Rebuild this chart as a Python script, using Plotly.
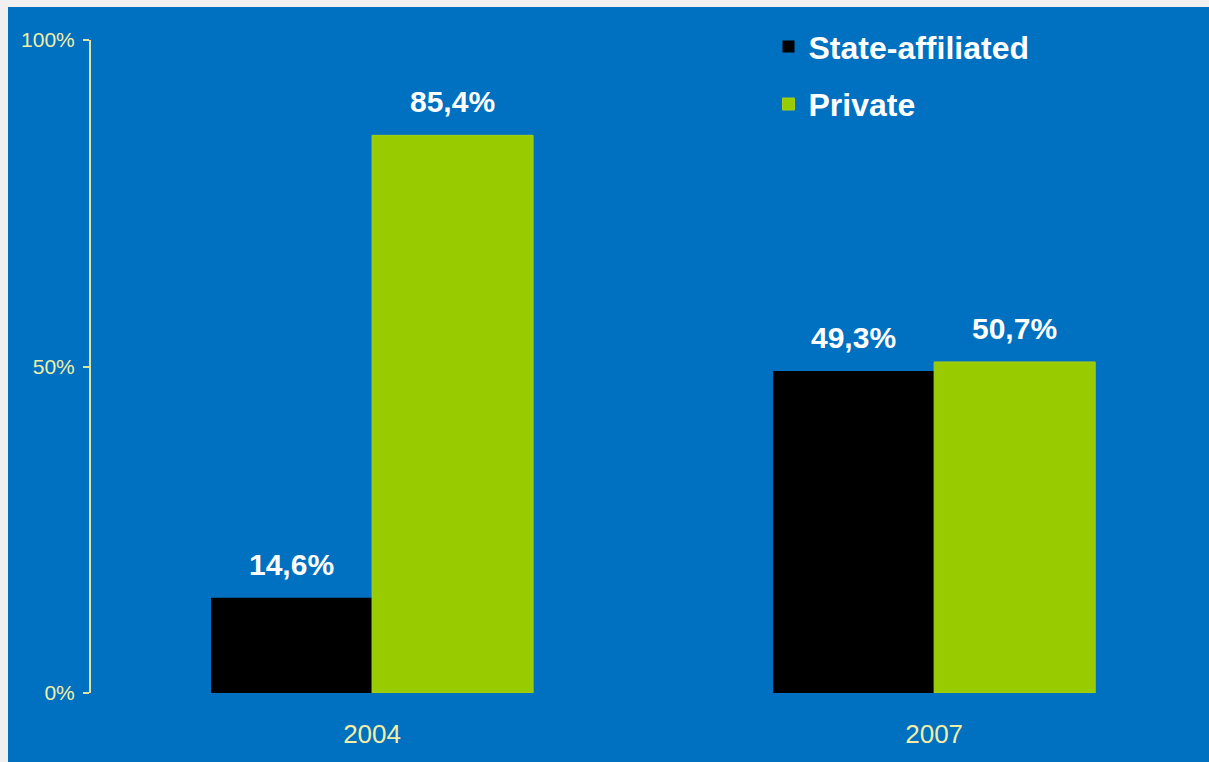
import plotly.graph_objects as go

years = ["2004", "2007"]
state_affiliated = [14.6, 49.3]
private = [85.4, 50.7]
state_labels = ["14,6%", "49,3%"]
private_labels = ["85,4%", "50,7%"]
y_tick_vals = [0, 50, 100]
y_tick_text = ["0%", "50%", "100%"]

BLUE = "#0070C0"
GREEN = "#99CC00"
PALE = "#f2eea6"
AXIS = "#dde3a5"
BOLDF = "Liberation Sans, Arial, sans-serif"
REG = "Liberation Sans, Arial, sans-serif"

bargap = 0.427
bar_w = (1 - bargap) / 2

fig = go.Figure()
fig.add_trace(go.Bar(x=years, y=state_affiliated, name="State-affiliated",
                     marker=dict(color="#000000", line=dict(width=0)),
                     legendgroup="a"))
fig.add_trace(go.Bar(x=years, y=private, name="Private",
                     marker=dict(color=GREEN, line=dict(color="#a3cf1a", width=1)),
                     legendgroup="b"))

annotations = []
for i in range(len(years)):
    for vals, labs, sign in ((state_affiliated, state_labels, -1), (private, private_labels, 1)):
        annotations.append(dict(
            x=i + sign * bar_w / 2, y=vals[i], xref="x", yref="y",
            text=labs[i], showarrow=False, yanchor="bottom", yshift=15,
            font=dict(family=BOLDF, size=30, color="white", weight="bold")))

fig.update_layout(
    width=1201, height=755,
    margin=dict(l=83, r=0, t=33, b=69),
    paper_bgcolor=BLUE, plot_bgcolor=BLUE,
    barmode="group", bargap=bargap, bargroupgap=0,
    showlegend=True,
    legend=dict(x=0.606, y=1.032, xanchor="left", yanchor="top",
                bgcolor="rgba(0,0,0,0)", tracegroupgap=13,
                font=dict(family=BOLDF, size=32, color="white", weight="bold")),
    annotations=annotations,
    xaxis=dict(type="category", range=[-0.5, 1.489], showline=False, showgrid=False,
               zeroline=False, ticks="", ticklabelstandoff=23,
               tickfont=dict(family=REG, size=26, color=PALE)),
    yaxis=dict(range=[0, 100], tickvals=y_tick_vals, ticktext=y_tick_text,
               showline=True, linecolor=AXIS, linewidth=2, ticks="outside",
               ticklen=6, tickwidth=2, tickcolor=AXIS, showgrid=False, zeroline=False,
               ticklabelstandoff=4,
               tickfont=dict(family=REG, size=21, color=PALE)),
)

fig.write_html("out.html",
               post_script="document.body.style.margin='7px 0 0 8px';"
                           "document.body.style.background='#f0f0f0';"
                           "document.body.style.overflow='hidden';")
